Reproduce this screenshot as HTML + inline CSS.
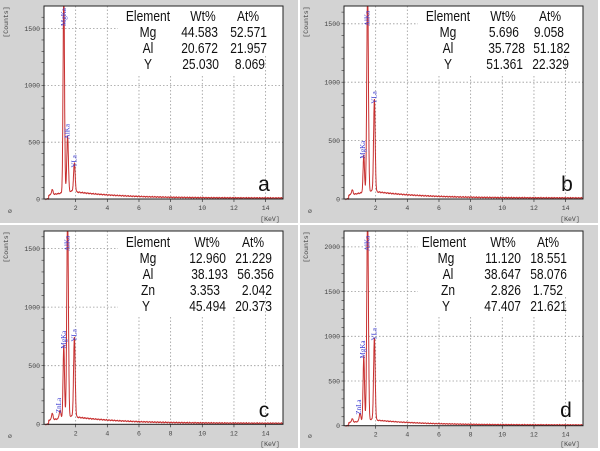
<!DOCTYPE html>
<html><head><meta charset="utf-8">
<style>
html,body{margin:0;padding:0;background:#fff;}
svg{display:block;}
.t{font-family:"Liberation Sans",sans-serif;fill:#111;font-size:14.5px;}
.k{font-family:"Liberation Mono",monospace;fill:#444;font-size:6.5px;}
.p{font-family:"Liberation Serif",serif;fill:#3a3ad0;font-size:7px;}
</style></head><body>
<svg id="s" width="600" height="451" viewBox="0 0 600 451" xmlns="http://www.w3.org/2000/svg">
<rect width="600" height="451" fill="#fff"/>
<g id="pa" transform="translate(0,0)">
 <text class="t" x="148" y="21" text-anchor="middle">Element</text><text class="t" x="203" y="21" text-anchor="middle">Wt%</text><text class="t" x="248" y="21" text-anchor="middle">At%</text>
 <text class="t" x="148" y="37" text-anchor="middle">Mg</text><text class="t" x="218" y="37" text-anchor="end">44.583</text><text class="t" x="267" y="37" text-anchor="end">52.571</text>
 <text class="t" x="148" y="53" text-anchor="middle">Al</text><text class="t" x="218" y="53" text-anchor="end">20.672</text><text class="t" x="267" y="53" text-anchor="end">21.957</text>
 <text class="t" x="148" y="69" text-anchor="middle">Y</text><text class="t" x="219" y="69" text-anchor="end">25.030</text><text class="t" x="265" y="69" text-anchor="end">8.069</text>
 <text class="t" x="264" y="191" text-anchor="middle" style="font-size:21px">a</text>
</g>
<g id="pb" transform="translate(300,0)">
 <text class="t" x="148" y="21" text-anchor="middle">Element</text><text class="t" x="203" y="21" text-anchor="middle">Wt%</text><text class="t" x="250" y="21" text-anchor="middle">At%</text>
 <text class="t" x="148" y="37" text-anchor="middle">Mg</text><text class="t" x="219" y="37" text-anchor="end">5.696</text><text class="t" x="264" y="37" text-anchor="end">9.058</text>
 <text class="t" x="148" y="53" text-anchor="middle">Al</text><text class="t" x="225" y="53" text-anchor="end">35.728</text><text class="t" x="270" y="53" text-anchor="end">51.182</text>
 <text class="t" x="148" y="69" text-anchor="middle">Y</text><text class="t" x="223" y="69" text-anchor="end">51.361</text><text class="t" x="269" y="69" text-anchor="end">22.329</text>
 <text class="t" x="267" y="191" text-anchor="middle" style="font-size:21px">b</text>
</g>
<g id="pc" transform="translate(0,225)">
 <text class="t" x="148" y="22" text-anchor="middle">Element</text><text class="t" x="207" y="22" text-anchor="middle">Wt%</text><text class="t" x="253" y="22" text-anchor="middle">At%</text>
 <text class="t" x="148" y="38" text-anchor="middle">Mg</text><text class="t" x="226" y="38" text-anchor="end">12.960</text><text class="t" x="272" y="38" text-anchor="end">21.229</text>
 <text class="t" x="148" y="54" text-anchor="middle">Al</text><text class="t" x="228" y="54" text-anchor="end">38.193</text><text class="t" x="274" y="54" text-anchor="end">56.356</text>
 <text class="t" x="148" y="70" text-anchor="middle">Zn</text><text class="t" x="220" y="70" text-anchor="end">3.353</text><text class="t" x="272" y="70" text-anchor="end">2.042</text>
 <text class="t" x="146" y="86" text-anchor="middle">Y</text><text class="t" x="226" y="86" text-anchor="end">45.494</text><text class="t" x="272" y="86" text-anchor="end">20.373</text>
 <text class="t" x="264" y="192" text-anchor="middle" style="font-size:21px">c</text>
</g>
<g id="pd" transform="translate(300,225)">
 <text class="t" x="144" y="22" text-anchor="middle">Element</text><text class="t" x="203" y="22" text-anchor="middle">Wt%</text><text class="t" x="248" y="22" text-anchor="middle">At%</text>
 <text class="t" x="146" y="38" text-anchor="middle">Mg</text><text class="t" x="221" y="38" text-anchor="end">11.120</text><text class="t" x="267" y="38" text-anchor="end">18.551</text>
 <text class="t" x="148" y="54" text-anchor="middle">Al</text><text class="t" x="221" y="54" text-anchor="end">38.647</text><text class="t" x="267" y="54" text-anchor="end">58.076</text>
 <text class="t" x="148" y="70" text-anchor="middle">Zn</text><text class="t" x="221" y="70" text-anchor="end">2.826</text><text class="t" x="263" y="70" text-anchor="end">1.752</text>
 <text class="t" x="146" y="86" text-anchor="middle">Y</text><text class="t" x="221" y="86" text-anchor="end">47.407</text><text class="t" x="267" y="86" text-anchor="end">21.621</text>
 <text class="t" x="266" y="192" text-anchor="middle" style="font-size:21px">d</text>
</g>
</svg>
<script>
(function(){
var NS="http://www.w3.org/2000/svg";
// narrow table text to match Calibri-like widths
Array.prototype.forEach.call(document.querySelectorAll("text.t"),function(t){
 if(t.getAttribute("style"))return;
 var w=t.getComputedTextLength();t.setAttribute("textLength",(w*0.83).toFixed(1));t.setAttribute("lengthAdjust","spacingAndGlyphs");});
var cfg={
 pa:{y0:199,s:56.8/500,ticks:[0,500,1000,1500],tab:76,peaks:[[0.52,45,0.05],[1.25,1800,0.045],[1.49,500,0.05],[1.92,250,0.05]],labels:[[1.25,"MgKa",4],[1.49,"AlKa",1],[1.92,"YLa",1]]},
 pb:{y0:199,s:58.4/500,ticks:[0,500,1000,1500],tab:76,peaks:[[0.52,40,0.05],[1.25,320,0.045],[1.49,1800,0.05],[1.92,790,0.05]],labels:[[1.2,"MgKa",1],[1.49,"AlKa",4],[1.92,"YLa",1]]},
 pc:{y0:199.3,s:58.6/500,ticks:[0,500,1000,1500],tab:92,peaks:[[0.52,55,0.05],[1.01,70,0.05],[1.25,620,0.045],[1.49,1800,0.05],[1.92,680,0.05]],labels:[[0.95,"ZnLa",1],[1.25,"MgKa",1],[1.49,"AlKa",4],[1.92,"YLa",1]]},
 pd:{y0:200.7,s:44.7/500,ticks:[0,500,1000,1500,2000],tab:92,peaks:[[0.52,40,0.05],[1.01,90,0.05],[1.25,720,0.045],[1.49,2400,0.05],[1.92,920,0.05]],labels:[[0.95,"ZnLa",1],[1.2,"MgKa",1],[1.49,"AlKa",4],[1.92,"YLa",1]]}
};
var X0=44,XS=15.83,XR=283,TOP=6;
for(var id in cfg){
 var c=cfg[id],g=document.getElementById(id);
 var bg=document.createElementNS(NS,"g");g.insertBefore(bg,g.firstChild);
 function add(n,a,t){var e=document.createElementNS(NS,n);for(var k in a)e.setAttribute(k,a[k]);if(t!==undefined)e.textContent=t;bg.appendChild(e);return e;}
 add("rect",{x:0,y:0,width:298,height:223,fill:"#d3d3d3"});
 add("rect",{x:X0,y:TOP,width:XR-X0,height:c.y0-TOP,fill:"#fff"});
 var grid="#9a9a9a";
 for(var k=2;k<=14;k+=2){var x=X0+k*XS;var yt=(k>=6&&k<=12)?c.tab:TOP;if(k==14)yt=c.tab-20;
  add("line",{x1:x,y1:yt,x2:x,y2:c.y0,stroke:grid,"stroke-width":0.8,"stroke-dasharray":"1.5,2"});
  add("text",{x:x,y:c.y0+11,"class":"k","text-anchor":"middle"},""+k);
  add("line",{x1:x,y1:c.y0,x2:x,y2:c.y0+3,stroke:"#333","stroke-width":0.7});}
 c.ticks.forEach(function(v){var y=c.y0-v*c.s;
  if(v>0){var xe=(y<c.tab)?118:XR;add("line",{x1:X0,y1:y,x2:xe,y2:y,stroke:grid,"stroke-width":0.8,"stroke-dasharray":"1.5,2"});}
  add("text",{x:X0-4,y:y+2.3,"class":"k","text-anchor":"end"},""+v);});
 for(var v=0;v*c.s<c.y0-TOP;v+=100){var y=c.y0-v*c.s;add("line",{x1:X0-2.5,y1:y,x2:X0,y2:y,stroke:"#333","stroke-width":0.6});}
 var pts=[];
 for(var e=0.1;e<=15.2;e+=0.01){
  var b=e<0.3?0:(e<1.9?25+25*e:55*Math.exp(-(e-2)/3)+8);
  b+=Math.sin(e*37)*3+Math.sin(e*91)*2;
  c.peaks.forEach(function(p){b+=p[1]*Math.exp(-Math.pow((e-p[0])/p[2],2)/2);});
  var y=Math.max(TOP,c.y0-b*c.s);var x=X0+e*XS;if(x>XR)break;
  pts.push(x.toFixed(1)+","+y.toFixed(1));}
 add("polyline",{points:pts.join(" "),fill:"none",stroke:"#c83030","stroke-width":1});
 add("rect",{x:X0,y:TOP,width:XR-X0,height:c.y0-TOP,fill:"none",stroke:"#222","stroke-width":1});
 c.labels.forEach(function(l){var x=X0+l[0]*XS+2;var pk=0;c.peaks.forEach(function(p){if(Math.abs(p[0]-l[0])<0.1)pk=p[1];});
  var y=Math.max(TOP+l[2]+20,c.y0-pk*c.s-3);if(l[2]==4)y=TOP+20;
  add("text",{x:x,y:y,"class":"p",transform:"rotate(-90 "+x+" "+y+")"},l[1]);});
 add("text",{x:0,y:0,"class":"k",transform:"translate(8,22) rotate(-90)","text-anchor":"middle"},"[Counts]");
 add("text",{x:270,y:221,"class":"k","text-anchor":"middle"},"[KeV]");
 add("text",{x:10,y:213,"class":"k","text-anchor":"middle"},"ø");
}
})();
</script>
</body></html>
